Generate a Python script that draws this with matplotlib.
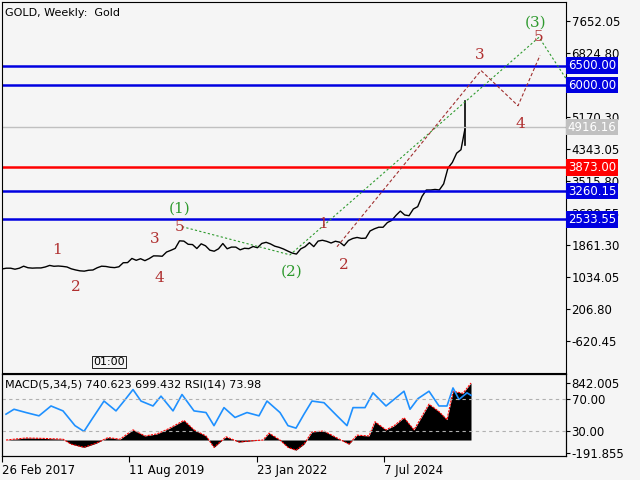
import matplotlib
matplotlib.use("Agg")
import matplotlib.pyplot as plt
import numpy as np

# monthly gold closes Feb 2017 .. Jan 2026
closes = [1248,1268,1268,1242,1268,1320,1280,1270,1275,1275,1300,
          1340,1318,1325,1315,1300,1252,1223,1200,1192,1215,1222,1280,
          1320,1313,1292,1283,1305,1409,1413,1520,1472,1513,1463,1517,
          1587,1585,1577,1686,1730,1780,1975,1968,1886,1879,1776,1898,
          1847,1734,1707,1769,1906,1770,1814,1813,1743,1783,1774,1829,
          1797,1908,1937,1896,1837,1807,1765,1711,1660,1633,1768,1824,
          1928,1826,1969,1990,1962,1919,1965,1940,1849,1983,2036,2063,
          2039,2044,2230,2286,2327,2326,2447,2503,2634,2744,2643,2625,
          2798,2858,3124,3289,3289,3303,3290,3448,3858,4000,4240,4330,
          4916]
last_high = 5600
last_low = 4450

levels_blue = [6500.00, 6000.00, 3260.15, 2533.55]
level_red = 3873.00
level_now = 4916.16
price_ticks = [7652.05, 6824.80, 5170.30, 4343.05, 3515.80, 2688.55, 1861.30, 1034.05, 206.80, -620.45]

# wave labels (week index, price, text, colour)
waves = [(55,1743,"1","#b03030"),(74,780,"2","#b03030"),(153,2030,"3","#b03030"),
         (157,1014,"4","#b03030"),(178,2342,"5","#b03030"),(178,2811,"(1)","#2e9a2e"),
         (290,1171,"(2)","#2e9a2e"),(321,2420,"1","#b03030"),(342,1353,"2","#b03030"),
         (478,6767,"3","#b03030"),(518,4997,"4","#b03030"),(537,7236,"5","#b03030"),
         (534,7626,"(3)","#2e9a2e")]
green_path_x = [180,288,537,564]
green_path_y = [2342,1613,7236,6168]
red_path_x = [335,479,516,538]
red_path_y = [1822,6377,5466,6767]

rsi_x = [4,12,24,37,49,61,73,82,90,102,114,122,131,139,151,159,171,180,192,204,212,222,233,245,257,265,278,286,294,302,310,322,335,345,351,363,371,384,396,402,408,416,427,437,445,451,457,465,469]
rsi = [51,57,53,49,61,55,37,30,45,67,55,67,81,67,61,73,55,75,55,53,37,59,47,53,49,67,53,37,34,51,67,65,49,37,59,59,77,61,73,79,57,70,79,61,61,83,69,77,74]
macd_x = [4,24,41,61,69,82,94,106,118,131,143,155,167,182,192,204,212,224,237,249,261,267,278,286,294,302,310,322,335,347,355,367,373,384,392,402,412,427,437,445,451,461,469]
macd = [0,30,24,12,-60,-108,-48,36,12,150,60,90,170,290,150,60,-108,48,-30,-12,0,102,0,-108,-150,-60,120,133,30,-60,72,60,270,150,210,330,150,530,420,300,720,690,842]

bg = "#f5f5f5"
fig = plt.figure(figsize=(6.4,4.8), dpi=100, facecolor=bg)
ax = fig.add_axes([2/640, 107/480, 564/640, 371/480], facecolor=bg)
ax2 = fig.add_axes([2/640, 24/480, 564/640, 82/480], facecolor=bg)

xs = np.arange(len(closes))*4.33
ax.plot(xs, closes, color="black", lw=1.0)
ax.plot([xs[-1],xs[-1]],[last_low,last_high], color="black", lw=1.2)
ax.set_xlim(0,564); ax.set_ylim(-1440,8147)
for lv in levels_blue:
    ax.axhline(lv, color="#0000e0", lw=1.8)
ax.axhline(level_red, color="#ff0000", lw=1.8)
ax.axhline(level_now, color="#c0c0c0", lw=1)
ax.plot(green_path_x, green_path_y, color="#2e9a2e", lw=0.8, ls=(0,(2,2)))
ax.plot(red_path_x, red_path_y, color="#a03030", lw=0.8, ls=(0,(3,2)))
for x,y,t,c in waves:
    ax.text(x,y,t,color=c,fontsize=11,family="DejaVu Serif",ha="center",va="center")
ax.yaxis.tick_right()
ax.set_yticks(price_ticks)
ax.set_yticklabels(["%.2f"%v for v in price_ticks])
ax.set_xticks([])
ax.tick_params(axis="y", labelsize=8.5, length=3, pad=1)
for lv,fc,tc in [(6500.00,"#0000e0","white"),(6000.00,"#0000e0","white"),(3260.15,"#0000e0","white"),
                 (2533.55,"#0000e0","white"),(3873.00,"#ff0000","white"),(4916.16,"#c0c0c0","white")]:
    ax.text(1.003,lv,"%.2f"%lv,transform=ax.get_yaxis_transform(),fontsize=8.5,color=tc,va="center",ha="left",
            bbox=dict(boxstyle="square,pad=0.15",fc=fc,ec="none"),clip_on=False,zorder=10)
ax.text(0.005,0.985,"GOLD, Weekly:  Gold",transform=ax.transAxes,fontsize=8,va="top")
ax.text(91,-1150,"01:00",fontsize=8,va="center",bbox=dict(boxstyle="square,pad=0.1",fc=bg,ec="black",lw=0.6))

# lower panel
ax2.set_xlim(0,564); ax2.set_ylim(-236,975)
ax2.fill_between(macd_x, 0, macd, color="black", lw=0)
ax2.plot(macd_x, macd, color="red", lw=0.8, ls=(0,(2,1)))
ax3 = ax2.twinx()
ax3.set_ylim(0,100)
ax3.plot(rsi_x, rsi, color="#1e90ff", lw=1.2)
for v in (70,30):
    ax3.axhline(v, color="#b0b0b0", lw=0.8, ls=(0,(3,3)))
ax3.set_yticks([70,30]); ax3.set_yticklabels(["70.00","30.00"])
ax3.tick_params(axis="y", labelsize=8.5, length=3, pad=1)
ax2.yaxis.tick_right()
ax2.set_yticks([842.005,-191.855]); ax2.set_yticklabels(["842.005","-191.855"])
ax2.tick_params(axis="y", which="both", left=False, labelleft=False, right=True, labelright=True, labelsize=8.5, length=3, pad=1)
ax2.text(0.005,0.93,"MACD(5,34,5) 740.623 699.432 RSI(14) 73.98",transform=ax2.transAxes,fontsize=8,va="top")
ax2.set_xticks([0,127,255,382])
ax2.set_xticklabels(["26 Feb 2017","11 Aug 2019","23 Jan 2022","7 Jul 2024"],ha="left")
ax2.tick_params(axis="x", labelsize=8.5, length=4, pad=2)
fig.savefig("out.png", dpi=100, facecolor=bg)
